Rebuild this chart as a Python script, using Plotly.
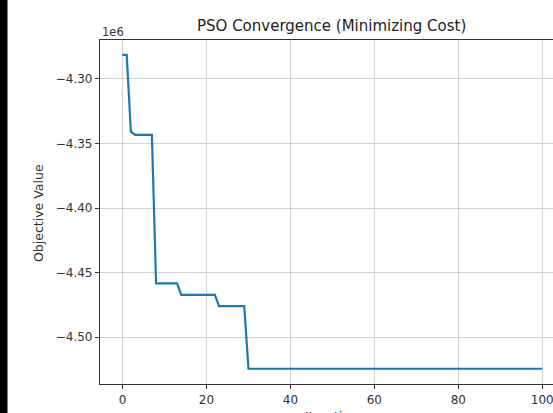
import plotly.graph_objects as go

# Iteration numbers (x) and best objective value per iteration (y)
iterations = list(range(101))
best_values = [
    -4281400, -4281400, -4340900,
    -4343400, -4343400, -4343400, -4343400, -4343400,
    -4458400, -4458400, -4458400, -4458400, -4458400, -4458400,
    -4467400, -4467400, -4467400, -4467400, -4467400, -4467400, -4467400, -4467400, -4467400,
    -4476000, -4476000, -4476000, -4476000, -4476000, -4476000, -4476000,
    -4524600, -4524600, -4524600, -4524600, -4524600, -4524600, -4524600, -4524600, -4524600, -4524600,
    -4524600, -4524600, -4524600, -4524600, -4524600, -4524600, -4524600, -4524600, -4524600, -4524600,
    -4524600, -4524600, -4524600, -4524600, -4524600, -4524600, -4524600, -4524600, -4524600, -4524600,
    -4524600, -4524600, -4524600, -4524600, -4524600, -4524600, -4524600, -4524600, -4524600, -4524600,
    -4524600, -4524600, -4524600, -4524600, -4524600, -4524600, -4524600, -4524600, -4524600, -4524600,
    -4524600, -4524600, -4524600, -4524600, -4524600, -4524600, -4524600, -4524600, -4524600, -4524600,
    -4524600, -4524600, -4524600, -4524600, -4524600, -4524600, -4524600, -4524600, -4524600, -4524600,
    -4524600,
]
x_ticks = [0, 20, 40, 60, 80, 100]
y_ticks = [-4300000, -4350000, -4400000, -4450000, -4500000]
y_tick_labels = ["\u22124.30", "\u22124.35", "\u22124.40", "\u22124.45", "\u22124.50"]

title_text = "PSO Convergence (Minimizing Cost)"
x_title = "Iteration"
y_title = "Objective Value"

W, H = 553, 413
ML, MR, MT, MB = 100, 0, 40, 29
PW = W - ML - MR
PH = H - MT - MB

font = "DejaVu Sans, Arial, sans-serif"

fig = go.Figure()
fig.add_trace(go.Scatter(
    x=iterations, y=best_values, mode="lines",
    line=dict(color="#1f77b4", width=2.2),
    hoverinfo="x+y", showlegend=False,
))

fig.update_layout(
    width=W, height=H,
    margin=dict(l=ML, r=MR, t=MT, b=MB, pad=0),
    paper_bgcolor="white", plot_bgcolor="white",
    font=dict(family=font, size=10, color="#222"),
    showlegend=False,
)
fig.update_xaxes(
    range=[-5.36, 102.55],
    tickvals=x_ticks, ticktext=[str(v) for v in x_ticks],
    ticklabeloverflow="allow",
    showgrid=True, gridcolor="#d2d2d2", gridwidth=1.2,
    showline=True, linecolor="#333", linewidth=1.2, mirror=True,
    ticks="outside", ticklen=4, tickwidth=1, tickcolor="#333",
    tickfont=dict(size=12, color="#333"),
    zeroline=False,
)
fig.update_yaxes(
    range=[-4536400, -4269800],
    tickvals=y_ticks, ticktext=y_tick_labels,
    showgrid=True, gridcolor="#d2d2d2", gridwidth=1.2,
    showline=True, linecolor="#333", linewidth=1.2, mirror=False,
    ticks="outside", ticklen=4, tickwidth=1, tickcolor="#333",
    tickfont=dict(size=12, color="#333"),
    zeroline=False,
)

def px_x(px):
    return (px - ML) / PW

def px_y(py):
    return 1 - (py - MT) / PH

annotations = [
    dict(text=title_text, x=px_x(331), y=px_y(26), xref="paper", yref="paper",
         showarrow=False, xanchor="center", yanchor="middle",
         font=dict(size=15, color="#222", family=font)),
    dict(text="1e6", x=px_x(100), y=px_y(32), xref="paper", yref="paper",
         showarrow=False, xanchor="left", yanchor="middle",
         font=dict(size=11.5, color="#333", family=font)),
    dict(text=y_title, x=px_x(38), y=px_y(213), xref="paper", yref="paper",
         showarrow=False, xanchor="center", yanchor="middle", textangle=-90,
         font=dict(size=12.5, color="#333", family=font)),
    dict(text=x_title, x=px_x(331), y=px_y(416), xref="paper", yref="paper",
         showarrow=False, xanchor="center", yanchor="middle",
         font=dict(size=12.5, color="#333", family=font)),
]
fig.update_layout(annotations=annotations)

# Black strip along the left edge of the screenshot
fig.add_shape(type="rect", xref="paper", yref="paper",
              x0=px_x(0), x1=px_x(7.5), y0=px_y(H), y1=px_y(0),
              fillcolor="black", line=dict(width=0), layer="above")

fig.write_html("out.html",
               config={"displayModeBar": False},
               post_script="document.body.style.margin='0';document.body.style.overflow='hidden';")
